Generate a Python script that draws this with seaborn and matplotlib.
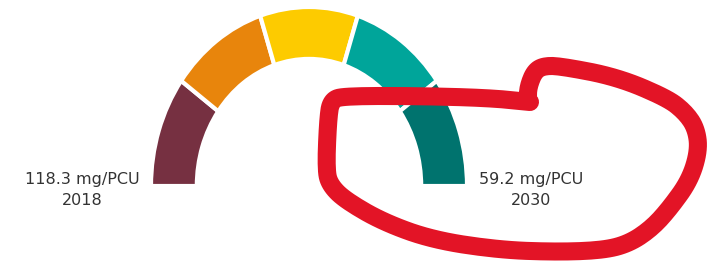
import matplotlib
matplotlib.use("Agg")
import matplotlib.pyplot as plt
import seaborn as sns
import numpy as np

# gauge bands, from 2018 level (left) to 2030 target (right)
bands = ["2018", "b2", "b3", "b4", "2030"]
band_sizes = [1, 1, 1, 1, 1]
band_colors = ["#763041", "#E8850C", "#FDCB00", "#00A59A", "#00736E"]

start_label = "118.3 mg/PCU\n2018"
end_label = "59.2 mg/PCU\n2030"

# hand-drawn red marker loop (pixel coords of the screenshot)
loop_x = [530, 490, 420, 345, 331, 328, 326, 330, 345, 383, 433, 500, 560, 605, 630,
          652, 670, 690, 699, 696, 685, 667, 617, 560, 543, 534, 528, 528]
loop_y = [102, 98, 96, 96, 100, 120, 170, 185, 200, 222, 240, 250, 252, 250, 243,
          228, 208, 180, 150, 128, 112, 98, 77, 66, 66, 72, 88, 100]


def smooth(xs, ys, n=3):
    # chaikin corner cutting so the marker stroke looks hand-drawn
    p = np.column_stack([xs, ys]).astype(float)
    for _ in range(n):
        q = 0.75 * p[:-1] + 0.25 * p[1:]
        r = 0.25 * p[:-1] + 0.75 * p[1:]
        p = np.vstack([p[:1], np.column_stack([q, r]).reshape(-1, 2), p[-1:]])
    return p[:, 0], p[:, 1]


sns.set_style("white")

fig = plt.figure(figsize=(7.18, 2.68), dpi=100)
ax = fig.add_axes([0, 0, 1, 1])

# pie with an invisible lower half -> semicircle gauge
sizes = band_sizes + [sum(band_sizes)]
colors = band_colors + ["none"]
wedges, _ = ax.pie(sizes, colors=colors, startangle=180, counterclock=False,
                   radius=1.0,
                   wedgeprops=dict(width=0.29, edgecolor="white", linewidth=3))
wedges[-1].set_edgecolor("none")

ax.set_aspect("auto")
ax.set_xlim(-309 / 158, (718 - 309) / 158)
ax.set_ylim(-(268 - 186) / 179, 186 / 179)
ax.axis("off")

ax.text((82 - 309) / 158, -4 / 179, start_label, ha="center", va="center",
        fontsize=11.5, color="#333333", linespacing=1.45)
ax.text((531 - 309) / 158, -4 / 179, end_label, ha="center", va="center",
        fontsize=11.5, color="#333333", linespacing=1.45)

# overlay in pixel coords for the marker loop
ov = fig.add_axes([0, 0, 1, 1])
ov.set_xlim(0, 718)
ov.set_ylim(268, 0)
ov.axis("off")
sx, sy = smooth(loop_x, loop_y)
ov.plot(sx, sy, color="#E31426", linewidth=13,
        solid_joinstyle="round", solid_capstyle="round")

fig.savefig("out.png", dpi=100)
